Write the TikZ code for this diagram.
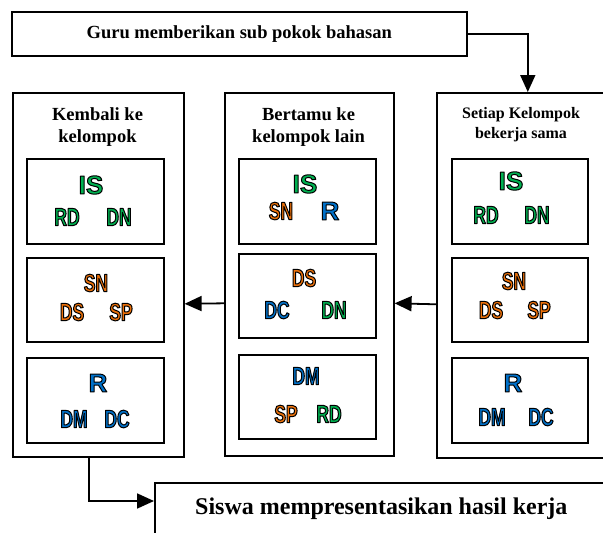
\documentclass[tikz,border=0pt]{standalone}
\usepackage{fontspec}
\setmainfont{Liberation Serif}
\newfontfamily\labw{Liberation Sans}
\newfontfamily\labc{Liberation Sans}[FakeStretch=0.7]
\usetikzlibrary{arrows.meta}
\definecolor{gG}{RGB}{0,176,80}
\definecolor{oO}{RGB}{235,112,10}
\definecolor{bB}{RGB}{0,112,200}
\newcommand{\olt}[1]{\special{pdf:literal direct 2 Tr 1 w 0 G 1 j}#1\special{pdf:literal direct 0 Tr}}
\begin{document}
\begin{tikzpicture}[x=1pt,y=-1pt,
  box/.style={draw, line width=1.6pt, rectangle, inner sep=0pt, anchor=north west},
  arr/.style={line width=1.8pt, -{Triangle[length=17pt,width=15pt]}},
  ttl/.style={font=\bfseries\fontsize{18.5}{22}\selectfont, align=center, inner sep=0pt},
  ttls/.style={font=\bfseries\fontsize{16}{20}\selectfont, align=center, inner sep=0pt},
  lab/.style={inner sep=0pt, anchor=center},
  cw/.style={font=\labw\bfseries\fontsize{26}{26}\selectfont},
  cn/.style={font=\labc\bfseries\fontsize{25}{25}\selectfont},
]
\useasboundingbox (0,0) rectangle (603,533);
% top and bottom boxes
\node[box, minimum width=455, minimum height=44, font=\bfseries\fontsize{18.5}{22}\selectfont] (top) at (11,11) {Guru memberikan sub pokok bahasan};
\node[box, minimum width=480, minimum height=90] (bot) at (154,482) {};
\node[anchor=base west, inner sep=0pt, font=\bfseries\fontsize{24}{28}\selectfont] (bottxt) at (195,514) {Siswa mempresentasikan hasil kerja};
% columns
\node[box, minimum width=171, minimum height=364] (colL) at (12,92) {};
\node[box, minimum width=169, minimum height=363] (colM) at (224,92) {};
\node[box, minimum width=170, minimum height=365] (colR) at (436,92) {};
\node[ttl] (tL) at (97.5,127.5) {Kembali ke\\kelompok};
\node[ttl] (tM) at (308.5,127.5) {Bertamu ke\\kelompok lain};
\node[ttls] (tR) at (521,124.5) {Setiap Kelompok\\bekerja sama};
% inner boxes
\node[box, minimum width=137, minimum height=85] (L1) at (26,158) {};
\node[box, minimum width=137, minimum height=84] (L2) at (26,257) {};
\node[box, minimum width=137, minimum height=85] (L3) at (26,357) {};
\node[box, minimum width=137, minimum height=85] (M1) at (238,158) {};
\node[box, minimum width=137, minimum height=84] (M2) at (238,253) {};
\node[box, minimum width=137, minimum height=84] (M3) at (238,354) {};
\node[box, minimum width=136, minimum height=85] (R1) at (451,158) {};
\node[box, minimum width=136, minimum height=84] (R2) at (451,257) {};
\node[box, minimum width=136, minimum height=85] (R3) at (451,357) {};
% labels left column
\node[lab,cw,text=gG] (L1a) at (91,185) {\olt{IS}};
\node[lab,cn,text=gG] (L1b) at (67,217) {\olt{RD}};
\node[lab,cn,text=gG] (L1c) at (119,217) {\olt{DN}};
\node[lab,cn,text=oO] (L2a) at (96,283) {\olt{SN}};
\node[lab,cn,text=oO] (L2b) at (72,312) {\olt{DS}};
\node[lab,cn,text=oO] (L2c) at (121,312) {\olt{SP}};
\node[lab,cw,text=bB] (L3a) at (98,383) {\olt{R}};
\node[lab,cn,text=bB] (L3b) at (74,419) {\olt{DM}};
\node[lab,cn,text=bB] (L3c) at (117,419) {\olt{DC}};
% labels middle column
\node[lab,cw,text=gG] (M1a) at (305,184) {\olt{IS}};
\node[lab,cn,text=oO] (M1b) at (281,211) {\olt{SN}};
\node[lab,cw,text=bB] (M1c) at (330,211) {\olt{R}};
\node[lab,cn,text=oO] (M2a) at (304,278) {\olt{DS}};
\node[lab,cn,text=bB] (M2b) at (277,310) {\olt{DC}};
\node[lab,cn,text=gG] (M2c) at (334,310) {\olt{DN}};
\node[lab,cn,text=bB] (M3a) at (306,376) {\olt{DM}};
\node[lab,cn,text=oO] (M3b) at (286,414) {\olt{SP}};
\node[lab,cn,text=gG] (M3c) at (329,414) {\olt{RD}};
% labels right column
\node[lab,cw,text=gG] (R1a) at (511,181) {\olt{IS}};
\node[lab,cn,text=gG] (R1b) at (486,215) {\olt{RD}};
\node[lab,cn,text=gG] (R1c) at (537,215) {\olt{DN}};
\node[lab,cn,text=oO] (R2a) at (514,281) {\olt{SN}};
\node[lab,cn,text=oO] (R2b) at (491,310) {\olt{DS}};
\node[lab,cn,text=oO] (R2c) at (539,310) {\olt{SP}};
\node[lab,cw,text=bB] (R3a) at (513,383) {\olt{R}};
\node[lab,cn,text=bB] (R3b) at (492,417) {\olt{DM}};
\node[lab,cn,text=bB] (R3c) at (541,417) {\olt{DC}};
% connectors
\draw[arr] (top.east) -| ([xshift=6pt]colR.north);
\draw[arr] ([yshift=-29pt]colR.west) -- ([yshift=-29pt]colM.east);
\draw[arr] ([yshift=-29pt]colM.west) -- ([yshift=-29pt]colL.east);
\draw[arr] ([xshift=-9.5pt]colL.south) |- ([yshift=-19pt]bot.north west);
\end{tikzpicture}
\end{document}
